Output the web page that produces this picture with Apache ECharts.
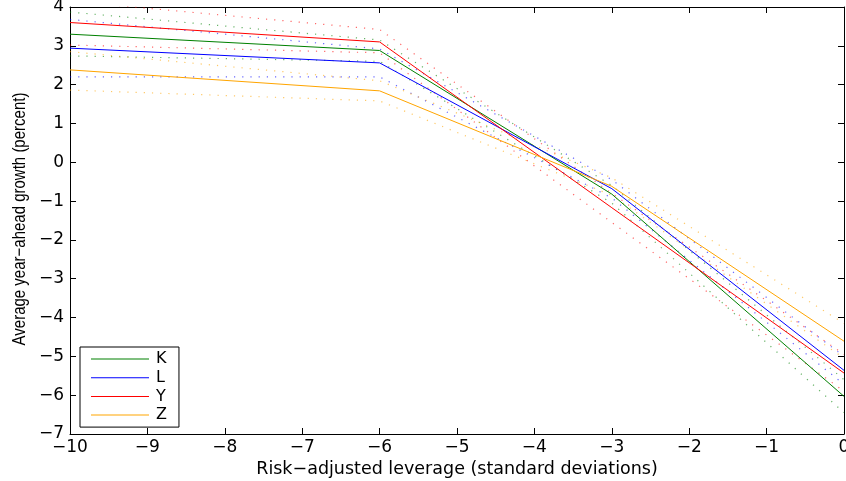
<!DOCTYPE html>
<html>
<head>
<meta charset="utf-8">
<script src="https://cdn.jsdelivr.net/npm/echarts@6/dist/echarts.min.js"></script>
<style>
html,body{margin:0;padding:0;background:#fff;}
#chart{width:846px;height:481px;}
</style>
</head>
<body>
<div id="chart"></div>
<script>
// x positions (risk-adjusted leverage, standard deviations)
const xVals = [-10, -6, -3, 0];

// central estimates
const K = [3.30, 2.88, -0.82, -6.03];
const L = [2.94, 2.56, -0.68, -5.36];
const Y = [3.60, 3.10, -1.17, -5.43];
const Z = [2.38, 1.84, -0.62, -4.61];

// confidence bands (upper / lower)
const K_hi = [3.87, 3.15, -0.60, -5.60];
const K_lo = [2.74, 2.60, -1.05, -6.45];
const L_hi = [3.68, 2.92, -0.45, -5.00];
const L_lo = [2.20, 2.20, -0.92, -5.72];
const Y_hi = [4.15, 3.42, -0.80, -4.95];
const Y_lo = [3.02, 2.82, -1.55, -5.90];
const Z_hi = [2.85, 2.10, -0.40, -4.15];
const Z_lo = [1.86, 1.58, -0.85, -5.05];

const xTicks = [-10, -9, -8, -7, -6, -5, -4, -3, -2, -1, 0];
const yTicks = [-7, -6, -5, -4, -3, -2, -1, 0, 1, 2, 3, 4];
const yTitle = 'Average year\u2212ahead growth (percent)';
const xTitle = 'Risk\u2212adjusted leverage (standard deviations)';

const seriesNames = ['K', 'L', 'Y', 'Z'];
const colors = {K: '#008000', L: '#0000ff', Y: '#ff0000', Z: '#ffa500'};
const centers = {K: K, L: L, Y: Y, Z: Z};
const uppers = {K: K_hi, L: L_hi, Y: Y_hi, Z: Z_hi};
const lowers = {K: K_lo, L: L_lo, Y: Y_lo, Z: Z_lo};

function pairs(arr) { return xVals.map((x, i) => [x, arr[i]]); }
const fmt = v => String(v).replace('-', '\u2212');
const FONT = 'Liberation Sans';
const WIDE = 'DejaVu Sans';

const series = [];
seriesNames.forEach(n => {
  [uppers[n], lowers[n]].forEach((arr, j) => {
    series.push({
      name: n + (j ? ' lower' : ' upper'),
      type: 'line', data: pairs(arr), showSymbol: false, symbol: 'none',
      silent: true, clip: true, z: 2,
      lineStyle: {color: colors[n], width: 1.2, type: [1.2, 7], opacity: 0.6}
    });
  });
});
seriesNames.forEach(n => {
  series.push({
    name: n, type: 'line', data: pairs(centers[n]), showSymbol: false, symbol: 'none',
    clip: true, z: 3, color: colors[n],
    lineStyle: {color: colors[n], width: 1}
  });
});

const axisCommon = {
  axisLine: {show: true, onZero: false, lineStyle: {color: '#000', width: 1}},
  axisTick: {show: true, inside: true, length: 6, lineStyle: {color: '#000'}},
  splitLine: {show: false}
};

const option = {
  animation: false,
  backgroundColor: '#fff',
  grid: {left: 70, right: 2, top: 7, bottom: 47, containLabel: false, outerBoundsMode: 'none'},
  graphic: [{
    type: 'text', silent: true,
    x: 20, y: 219,
    rotation: Math.PI / 2, scaleY: 1.2,
    style: {text: yTitle, fontFamily: FONT, fontSize: 15, fill: '#000',
      align: 'center', verticalAlign: 'middle'}
  }],
  legend: {
    data: seriesNames,
    orient: 'vertical',
    left: 80, top: 347,
    itemWidth: 58, itemHeight: 1,
    itemGap: 2.7,
    icon: 'rect',
    padding: [4, 12, 4, 11],
    borderColor: '#000', borderWidth: 1,
    backgroundColor: '#fff',
    textStyle: {fontFamily: WIDE, fontSize: 16, lineHeight: 16, color: '#000', padding: [0, 0, 0, 2]}
  },
  xAxis: [
    Object.assign({}, axisCommon, {
      type: 'value', min: -10, max: 0, interval: 1, position: 'bottom',
      name: xTitle,
      nameLocation: 'middle', nameGap: 23,
      nameTextStyle: {fontFamily: WIDE, fontSize: 17.5, color: '#000'},
      axisLabel: {fontFamily: WIDE, fontSize: 17, color: '#000', margin: 5,
        formatter: v => xTicks.includes(v) ? fmt(v) : ''}
    }),
    Object.assign({}, axisCommon, {
      type: 'value', min: -10, max: 0, interval: 1, position: 'top',
      axisLabel: {show: false}
    })
  ],
  yAxis: [
    Object.assign({}, axisCommon, {
      type: 'value', min: -7, max: 4, interval: 1, position: 'left',
      axisLabel: {fontFamily: WIDE, fontSize: 17, color: '#000', margin: 6,
        formatter: v => yTicks.includes(v) ? fmt(v) : ''}
    }),
    Object.assign({}, axisCommon, {
      type: 'value', min: -7, max: 4, interval: 1, position: 'right',
      axisLabel: {show: false}
    })
  ],
  series: series
};

const chart = echarts.init(document.getElementById('chart'), null, {renderer: 'canvas'});
chart.setOption(option);
</script>
</body>
</html>
